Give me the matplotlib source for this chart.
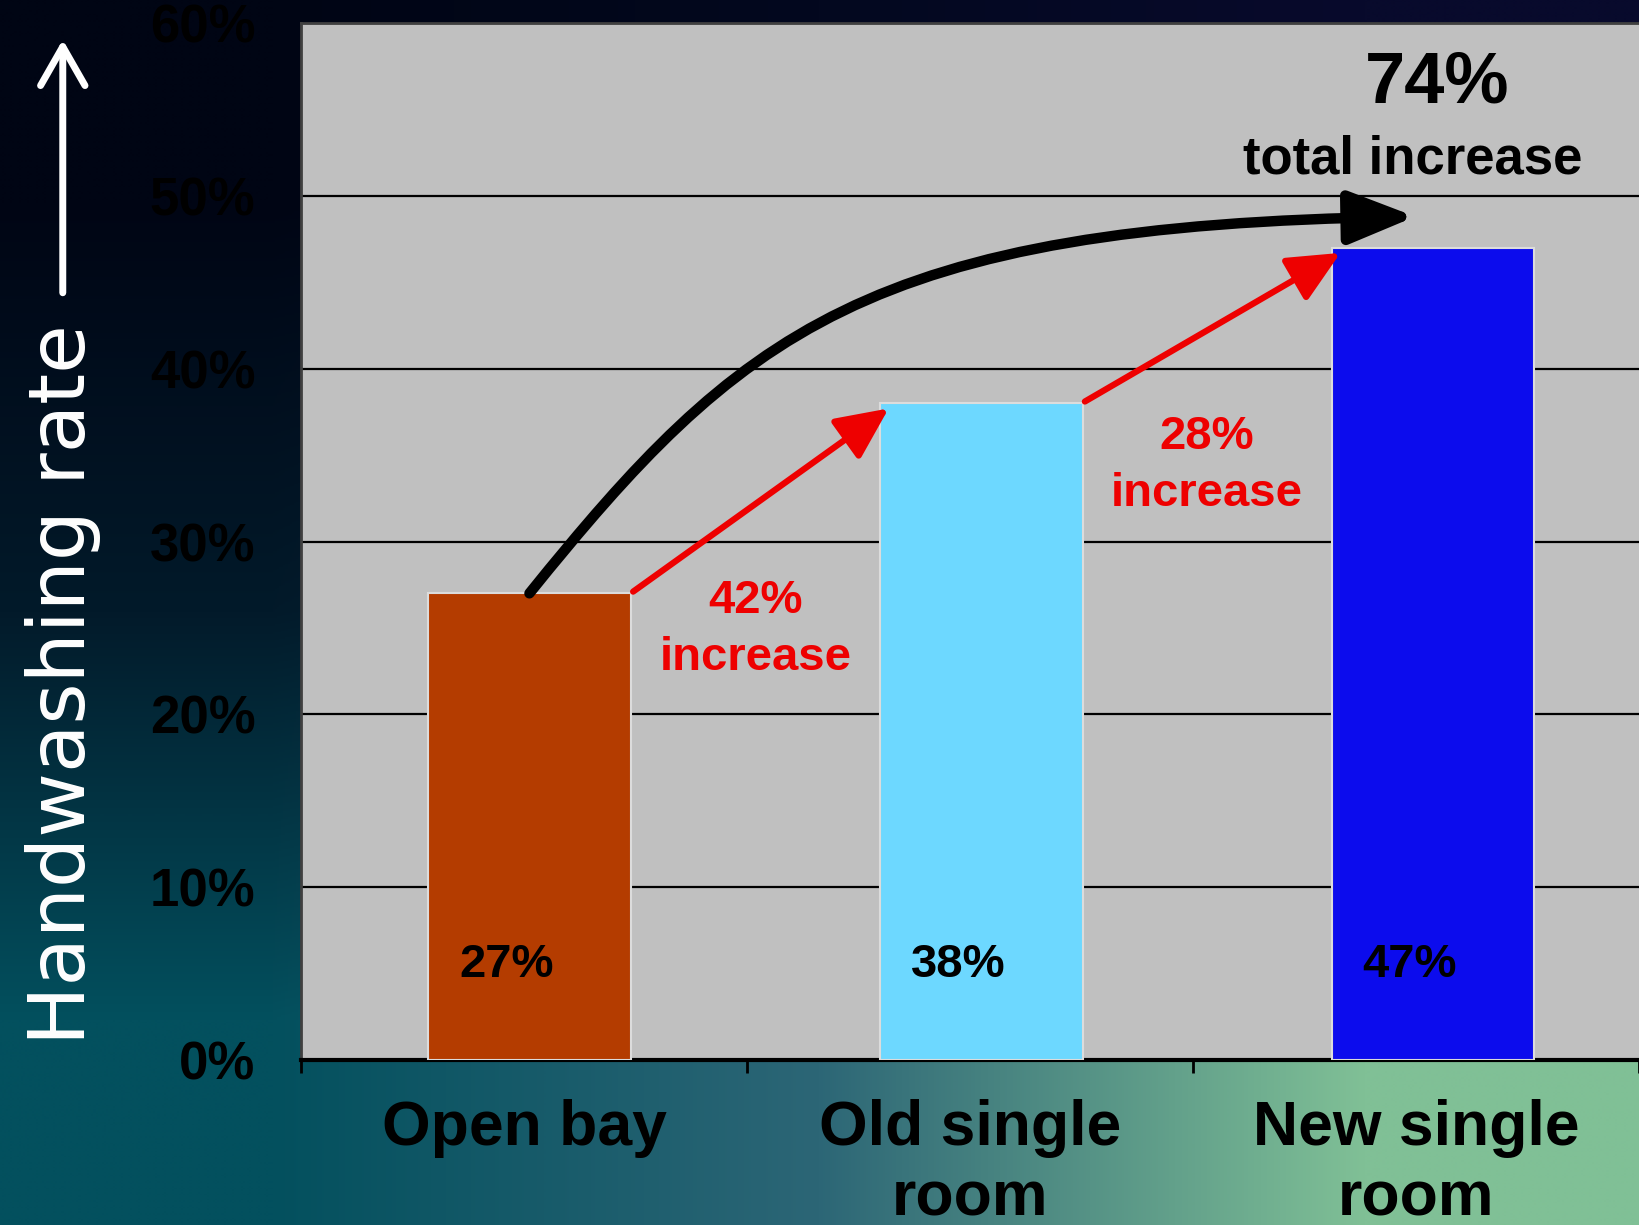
"""Handwashing rate by room type: bar chart with step and total increase arrows."""

import matplotlib

matplotlib.use("Agg")
import matplotlib.pyplot as plt
import numpy as np
from matplotlib.colors import to_rgb
from matplotlib.patches import FancyArrowPatch
from matplotlib.path import Path

CATEGORIES = ["Open bay", "Old single\nroom", "New single\nroom"]
RATES = [27, 38, 47]
BAR_COLORS = ["#b43c00", "#6dd8ff", "#0c0ced"]
STEP_LABELS = ["42%\nincrease", "28%\nincrease"]
TOTAL_PCT = "74%"
TOTAL_TEXT = "total increase"
Y_TICKS = [0, 10, 20, 30, 40, 50, 60]
Y_TICK_LABELS = ["0%", "10%", "20%", "30%", "40%", "50%", "60%"]
Y_LABEL = "Handwashing rate"

BAR_WIDTH = 0.455
RED = "#ee0000"
SANS = ["Liberation Sans", "DejaVu Sans"]


def _background(fig):
    bg = fig.add_axes([0, 0, 1, 1], zorder=-10)
    grid = np.array([
        [to_rgb("#000514"), to_rgb("#03081f"), to_rgb("#080a2c")],
        [to_rgb("#021a2a"), to_rgb("#0a2a40"), to_rgb("#203a50")],
        [to_rgb("#03505e"), to_rgb("#2c6676"), to_rgb("#80c096")],
    ])
    bg.imshow(grid, extent=[0, 1, 0, 1], aspect="auto", interpolation="bilinear")
    bg.axis("off")


def main():
    fig = plt.figure(figsize=(16.39, 12.25), dpi=100)
    _background(fig)

    ax = fig.add_axes([0.1837, 0.1347, 0.8163, 0.8465])
    ax.set_facecolor("#c0c0c0")
    x = np.arange(len(RATES))
    # the bars sit a little right of the category centres, as in the slide
    bar_x = x + 0.012 + 0.013 * x
    ax.bar(bar_x, RATES, width=BAR_WIDTH, color=BAR_COLORS, edgecolor="#dcdcdc",
           linewidth=1.5, zorder=3)
    ax.set_xlim(-0.5, len(RATES) - 0.5)
    ax.set_ylim(0, 60)

    ax.set_yticks(Y_TICKS)
    ax.set_yticklabels(Y_TICK_LABELS, fontsize=38, fontweight="bold", family=SANS)
    ax.tick_params(axis="y", length=0, pad=33, colors="black")
    ax.yaxis.grid(True, color="black", linewidth=1.6, zorder=1)
    ax.set_axisbelow(True)

    ax.set_xticks(x)
    ax.set_xticklabels(CATEGORIES, fontsize=45, fontweight="bold", family=SANS,
                       linespacing=1.25)
    ax.tick_params(axis="x", which="major", length=0, pad=28)
    ax.set_xticks(np.arange(len(RATES) + 1) - 0.5, minor=True)
    ax.tick_params(axis="x", which="minor", length=9, width=2, color="black",
                   direction="out")

    for side in ("top", "left"):
        ax.spines[side].set_color("#404040")
        ax.spines[side].set_linewidth(2)
    ax.spines["right"].set_visible(False)
    ax.spines["bottom"].set_color("black")
    ax.spines["bottom"].set_linewidth(3)

    # value labels inside the bars
    for xi, r in zip(bar_x, RATES):
        ax.text(xi - BAR_WIDTH / 2 + 0.07, 5.5, f"{r}%", ha="left", va="center",
                fontsize=34, fontweight="bold", family=SANS, zorder=5)

    # red step arrows from one bar's top-right to the next bar's top-left
    step_pos = [(0.52, 24.9), (1.53, 34.4)]
    for i, label in enumerate(STEP_LABELS):
        start = (bar_x[i] + BAR_WIDTH / 2 + 0.005, RATES[i] + 0.1)
        end = (bar_x[i + 1] - BAR_WIDTH / 2 + 0.02, RATES[i + 1] - 0.3)
        ax.add_patch(FancyArrowPatch(start, end, arrowstyle="-|>,head_length=1.6,head_width=0.75",
                                     mutation_scale=20, color=RED, linewidth=4.5,
                                     shrinkA=0, shrinkB=0, zorder=6))
        ax.text(*step_pos[i], label, ha="center", va="center", color=RED,
                fontsize=34, fontweight="bold", family=SANS, linespacing=1.4, zorder=6)

    # black curved arrow for the total increase
    x0, y0 = bar_x[0], RATES[0]
    xe, ye = bar_x[2] - 0.04, RATES[2] + 1.8
    verts = [
        (x0, y0),
        (x0 + 0.237 * (xe - x0), y0 + 0.69 * (ye - y0)),
        (x0 + 0.38 * (xe - x0), y0 + 0.977 * (ye - y0)),
        (xe, ye),
    ]
    curve = Path(verts, [Path.MOVETO, Path.CURVE4, Path.CURVE4, Path.CURVE4])
    ax.add_patch(FancyArrowPatch(path=curve, arrowstyle="-|>,head_length=2.0,head_width=0.8",
                                 mutation_scale=20, color="black", linewidth=7.5,
                                 zorder=7))
    ax.text(2.047, 56.5, TOTAL_PCT, ha="center", va="center", fontsize=52,
            fontweight="bold", family=SANS, zorder=6)
    ax.text(1.993, 52.1, TOTAL_TEXT, ha="center", va="center", fontsize=38,
            fontweight="bold", family=SANS, zorder=6)

    # white y-label with an upward arrow
    fig.text(0.0383, 0.441, Y_LABEL, rotation=90, ha="center", va="center",
             color="white", fontsize=57, family=["DejaVu Sans"])
    fig.add_artist(FancyArrowPatch((0.0383, 0.761), (0.0383, 0.9676),
                                   transform=fig.transFigure,
                                   arrowstyle="->,head_length=1.4,head_width=0.8",
                                   mutation_scale=20, color="white", linewidth=5,
                                   shrinkA=0, shrinkB=0))

    fig.savefig("out.png", dpi=100)
    plt.close(fig)


if __name__ == "__main__":
    main()
